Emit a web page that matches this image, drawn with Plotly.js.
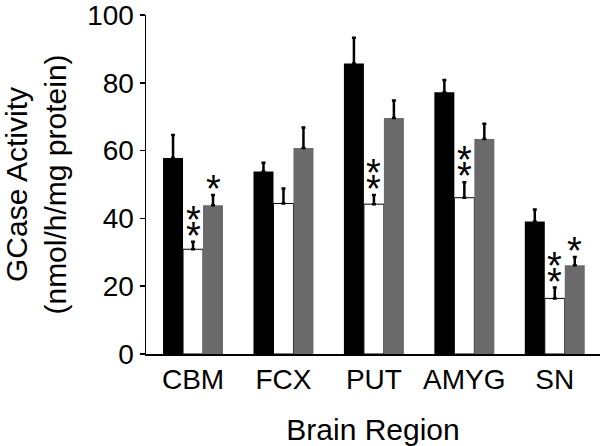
<!DOCTYPE html>
<html>
<head>
<meta charset="utf-8">
<script src="https://cdn.plot.ly/plotly-3.0.1.min.js"></script>
<style>html,body{margin:0;padding:0;background:#fff;}#chart{width:600px;height:446px;}</style>
</head>
<body>
<div id="chart"></div>
<script>
// ---- data ----
var regions = ['CBM', 'FCX', 'PUT', 'AMYG', 'SN'];
var blackValues = [57.8, 53.8, 85.7, 77.2, 39.1];
var blackErrors = [6.8, 2.6, 7.6, 3.6, 3.5];
var whiteValues = [30.9, 44.4, 44.2, 46.1, 16.4];
var whiteErrors = [2.2, 4.4, 2.7, 4.6, 3.2];
var grayValues = [43.9, 60.8, 69.6, 63.4, 26.2];
var grayErrors = [3.0, 6.0, 5.2, 4.5, 2.4];
var whiteStars = ['**', '', '**', '**', '**'];
var grayStars = ['*', '', '', '', '*'];
var yTicks = [0, 20, 40, 60, 80, 100];

var FONT = 'Liberation Sans, Arial, Helvetica, sans-serif';

function zeros(n){ var a=[]; for(var i=0;i<n;i++) a.push(0); return a; }

function barTrace(name, vals, errs, fill, lineW){
  return {
    type: 'bar', name: name, x: regions, y: vals,
    marker: {color: fill, line: {color: '#000', width: lineW}},
    error_y: {type: 'data', symmetric: false, array: errs, arrayminus: zeros(vals.length),
              color: '#000', thickness: 2.5, width: 2},
    hoverinfo: 'x+y'
  };
}

var data = [
  barTrace('Group 1', blackValues, blackErrors, '#000000', 0),
  barTrace('Group 2', whiteValues, whiteErrors, '#ffffff', 1),
  barTrace('Group 3', grayValues, grayErrors, '#6a6a6a', 0)
];

// significance asterisks, stacked above the error bars
var annotations = [];
var groupOffset = 60 / 90.44 / 3; // bar width in category units
function addStars(stars, vals, errs, offsetIdx){
  for (var i = 0; i < stars.length; i++) {
    var n = stars[i].length;
    for (var k = 0; k < n; k++) {
      annotations.push({
        x: i + offsetIdx * groupOffset, xref: 'x', y: vals[i] + errs[i], yref: 'y',
        text: '*', showarrow: false, xanchor: 'center', yanchor: 'middle',
        yshift: 6 + k * 16,
        font: {family: FONT, size: 38, color: '#000'}
      });
    }
  }
}
addStars(whiteStars, whiteValues, whiteErrors, 0);
addStars(grayStars, grayValues, grayErrors, 1);

var layout = {
  width: 600, height: 446,
  margin: {l: 146, r: 0, t: 11, b: 92},
  paper_bgcolor: '#fff', plot_bgcolor: '#fff',
  barmode: 'group', bargap: 0.337, bargroupgap: 0,
  showlegend: false,
  font: {family: FONT, color: '#000'},
  xaxis: {
    type: 'category', range: [-0.52, 4.5],
    showline: true, linecolor: '#000', linewidth: 1.5,
    ticks: '', showgrid: false, zeroline: false,
    tickfont: {family: FONT, size: 28, color: '#000'},
    title: {text: 'Brain Region', font: {family: FONT, size: 30, color: '#000'}}
  },
  yaxis: {
    range: [0, 100], tickvals: yTicks, ticktext: yTicks.map(String),
    showline: true, linecolor: '#000', linewidth: 1.5,
    ticks: 'outside', ticklen: 5, tickwidth: 1.5, tickcolor: '#000',
    ticklabeloverflow: 'allow',
    showgrid: false, zeroline: false,
    tickfont: {family: FONT, size: 28, color: '#000'},
    automargin: true,
    title: {text: 'GCase Activity<br>(nmol/h/mg protein)', standoff: 23,
            font: {family: FONT, size: 30, color: '#000'}}
  },
  annotations: annotations
};

Plotly.newPlot('chart', data, layout, {displayModeBar: false, staticPlot: true});
</script>
</body>
</html>
